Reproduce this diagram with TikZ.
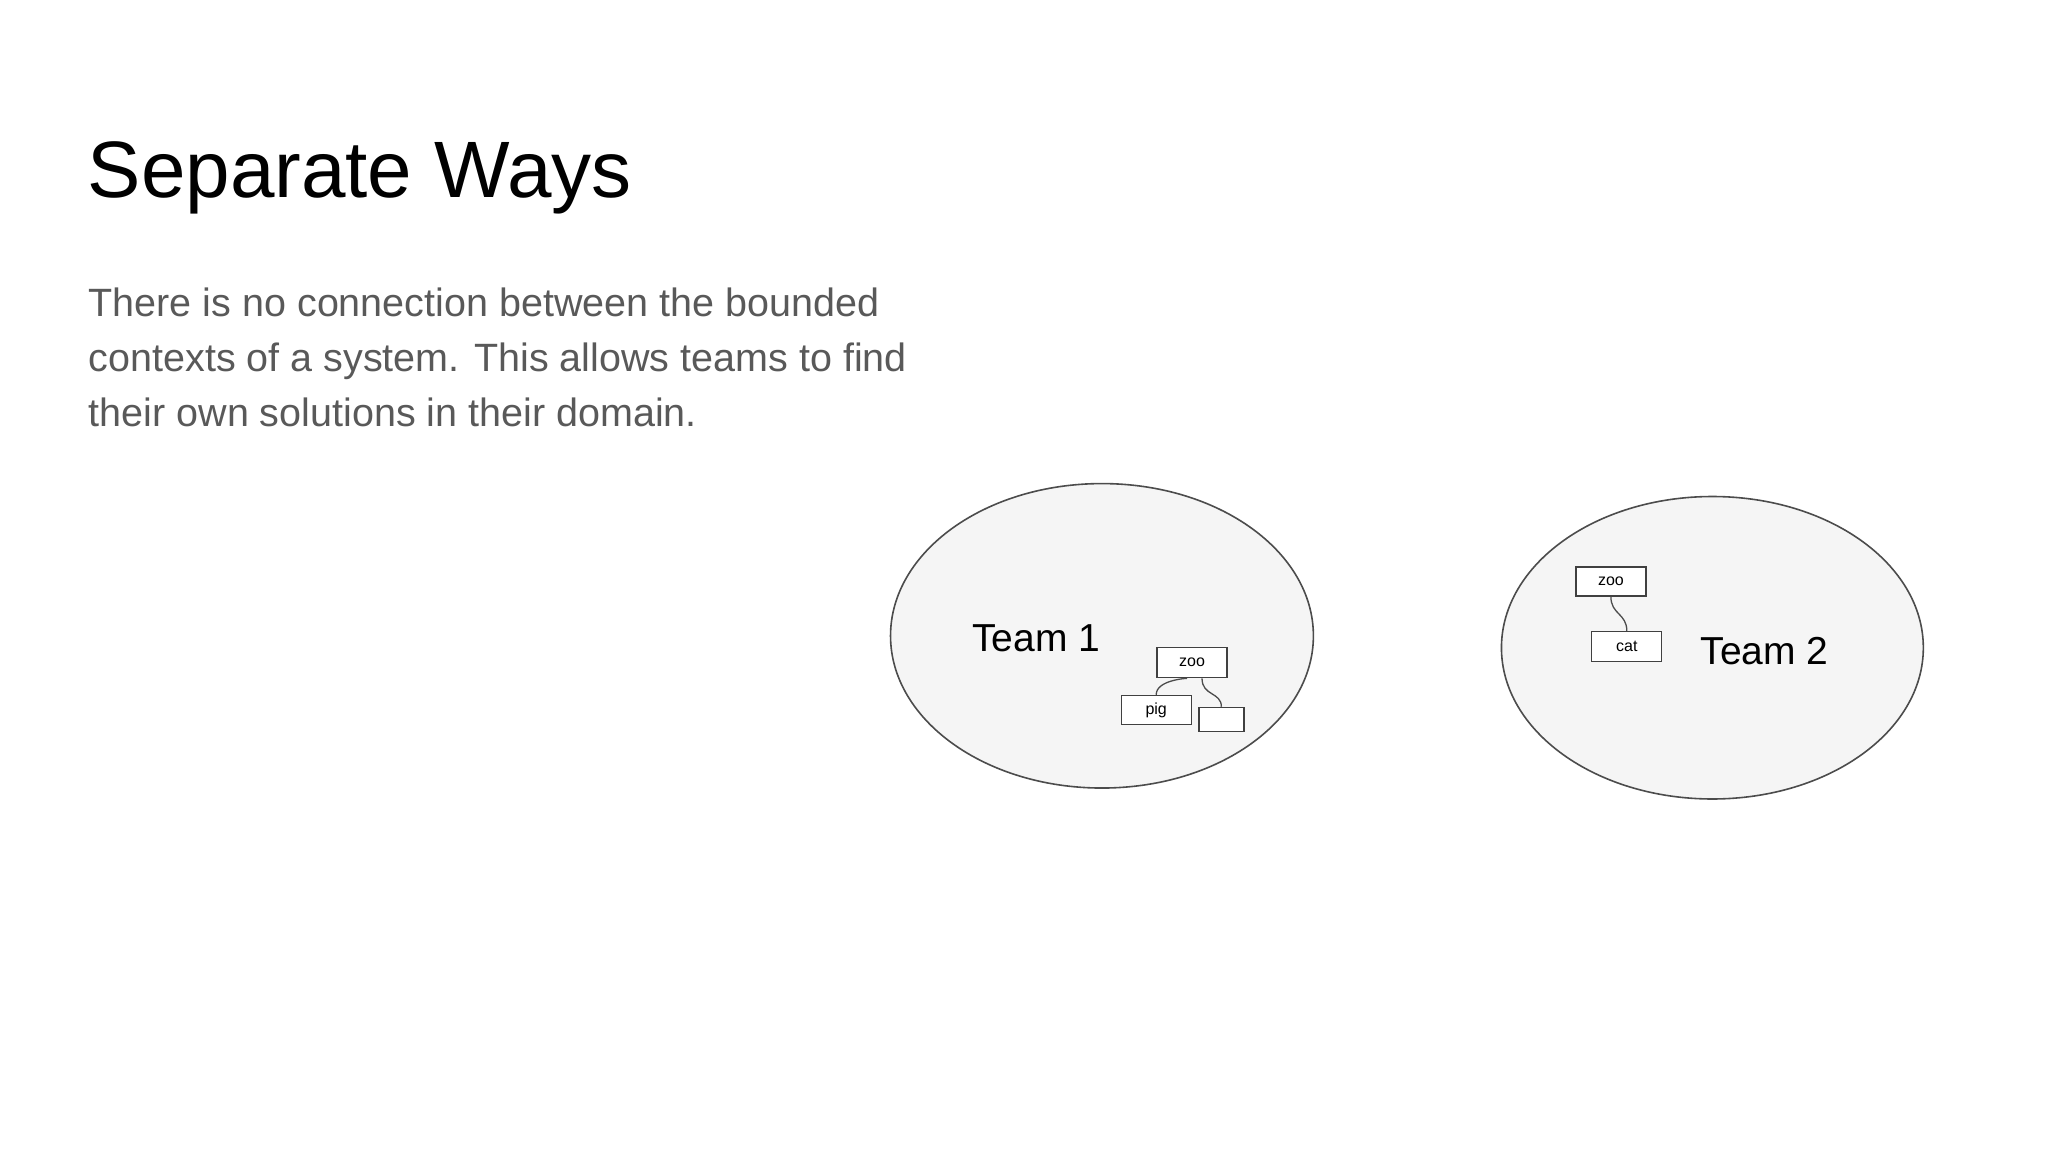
\documentclass[tikz,border=0pt]{standalone}
\usepackage{fontspec}
\setmainfont{Liberation Sans}
\begin{document}
\begin{tikzpicture}[x=1pt,y=-1pt,
  ctx/.style={draw=black!70,fill=black!4,line width=1.6pt},
  box/.style={draw=black!75,fill=white,line width=1.3pt,font=\fontsize{16}{16}\selectfont,inner sep=0pt},
  conn/.style={draw=black!70,line width=1.3pt},
  team/.style={anchor=base west,inner sep=0pt,font=\fontsize{39}{39}\selectfont}]
\useasboundingbox (0,0) rectangle (2048,1152);
\begin{scope}[x=0.995pt,y=-0.995pt]
\node[anchor=base west,inner sep=0pt,font=\fontsize{80}{80}\selectfont] (title) at (88,198) {Separate Ways};
\node[anchor=base west,inner sep=0pt,align=left,text=black!65,font=\fontsize{39.5}{55}\selectfont] (body) at (89,429)
 {There is no connection between the bounded\\contexts of a system. This allows teams to find\\their own solutions in their domain.};
\draw[ctx] (1107.5,639) ellipse [x radius=212.5, y radius=153];
\draw[ctx] (1721,651) ellipse [x radius=212, y radius=152];
\node[team] (t1) at (977,655) {Team 1};
\node[team] (t2) at (1709,668) {Team 2};
\node[box,minimum width=70pt,minimum height=30pt] (z1) at (1198,666) {zoo};
\node[box,minimum width=70pt,minimum height=29pt] (p1) at (1162,713.5) {pig};
\node[box,minimum width=45pt,minimum height=24pt] (e1) at (1227.5,723) {};
\node[box,minimum width=70pt,minimum height=29pt] (z2) at (1619,584.5) {zoo};
\node[box,minimum width=70pt,minimum height=30pt] (c2) at (1635,650) {cat};
\draw[conn] ([xshift=-5pt]z1.south) .. controls +(0,0) and +(0,-15) .. (p1.north);
\draw[conn] ([xshift=10pt]z1.south) .. controls +(0,18) and +(0,-15) .. (e1.north);
\draw[conn] (z2.south) .. controls +(0,18) and +(0,-18) .. (c2.north);
\end{scope}
\end{tikzpicture}
\end{document}
